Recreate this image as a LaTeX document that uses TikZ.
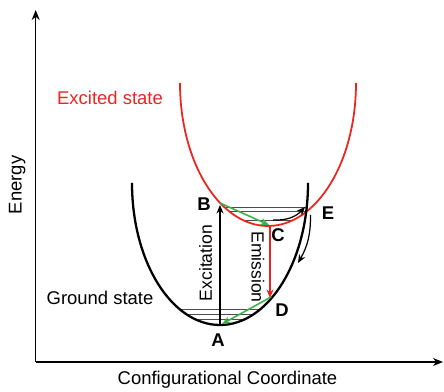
\documentclass[tikz,border=0pt]{standalone}
\usepackage{fontspec}
\setmainfont{Liberation Sans}
\usetikzlibrary{arrows.meta}
\definecolor{exc}{RGB}{236,36,30}
\definecolor{relax}{RGB}{60,178,72}

\begin{document}
\begin{tikzpicture}[
    x=.2cm,y=.2cm,
    ax/.style={-{Stealth[length=2mm,width=1.6mm]},line width=.8pt},
    gcurve/.style={line width=1.3pt},
    ecurve/.style={line width=1pt,exc},
    lvl/.style={line width=.4pt,black!70},
    arr/.style={-{Stealth[length=1.7mm,width=1.4mm]},line width=.7pt},
    pt/.style={font=\fontsize{10.5}{12}\selectfont\bfseries},
    lbl/.style={font=\fontsize{10.5}{12}\selectfont}
  ]
    \useasboundingbox (0,0) rectangle (44.4,39.2);
    % axes
    \coordinate (O) at (3.57,3); \coordinate (ytop) at (3.57,38.2); \coordinate (xend) at (44.3,3);
    \draw[ax] (O)--(ytop); \draw[ax] (O)--(xend);
    \node[lbl,rotate=90] (energy) at (1.73,20.7) {Energy};
    \node[lbl] (coord) at (22.75,1.2) {Configurational Coordinate};
    % vibrational levels
    \begin{scope}
      \clip (22,20.9) ellipse [x radius=8.8,y radius=14.2];
      \foreach \y in {8.3,7.8,7.3} {\draw[lvl] (12,\y)--(32,\y);}
      \clip (26.8,30.9) ellipse [x radius=8.8,y radius=14.3];
      \foreach \y in {18.5,18.1,17.2} {\draw[lvl] (12,\y)--(36,\y);}
    \end{scope}
    % potential curves
    \draw[ecurve] (18,30.9) arc[start angle=180,end angle=360,x radius=8.8,y radius=14.3];
    \draw[gcurve] (13.2,20.9) arc[start angle=180,end angle=360,x radius=8.8,y radius=14.2];
    \node[lbl,text=exc] (exclbl) at (11,29.4) {Excited state};
    \node[lbl] (gndlbl) at (10,9.4) {Ground state};
    % transitions
    \coordinate (a) at (22,6.7); \coordinate (b) at (22,18.7); \coordinate (b0) at (22,18.9);
    \coordinate (c) at (27,16.6); \coordinate (c0) at (26.9,16.7); \coordinate (d) at (27,9.4);
    \coordinate (d0) at (27.1,9.5); \coordinate (a0) at (22.2,6.8);
    \draw[arr] (a)--(b);
    \draw[arr,exc,line width=.9pt] (c)--(d);
    \draw[arr,relax,line width=.9pt] (b0)--(c0);
    \draw[arr,relax,line width=.9pt] (d0)--(a0);
    \coordinate (c1) at (27.3,17.2); \coordinate (e1) at (30.5,18.5);
    \coordinate (e2) at (31.05,17.7); \coordinate (d2) at (29.8,12.9);
    \draw[arr] (c1) to[bend right=25] (e1);
    \draw[arr] (e2) to[bend left=15] (d2);
    \node[lbl,rotate=90,font=\fontsize{10}{12}\selectfont] (excit) at (20.57,12.9) {Excitation};
    \node[lbl,rotate=-90,font=\fontsize{10}{12}\selectfont] (emiss) at (25.8,12.5) {Emission};
    \foreach \n/\x/\y in {A/21.8/5.2,B/20.4/18.8,C/27.8/15.7,D/28.2/8.2,E/32.8/17.9}
      {\node[pt] (lab\n) at (\x,\y) {\n};}
\end{tikzpicture}
\end{document}
